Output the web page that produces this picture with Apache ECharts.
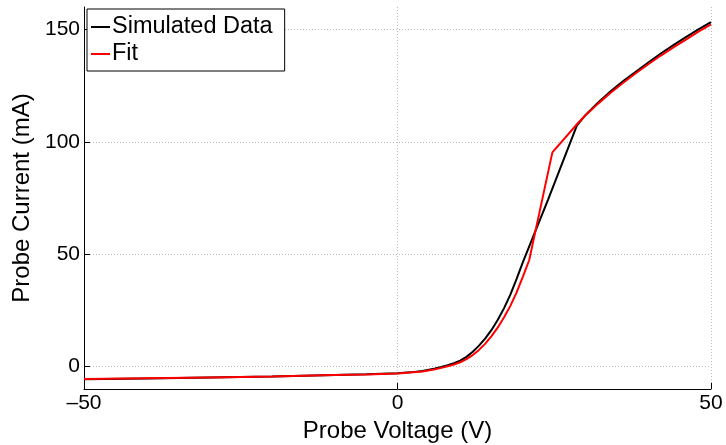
<!DOCTYPE html>
<html>
<head>
<meta charset="utf-8">
<script src="https://cdn.jsdelivr.net/npm/echarts@6/dist/echarts.min.js"></script>
<style>
html,body{margin:0;padding:0;background:#fff;}
#c{width:726px;height:445px;}
</style>
</head>
<body>
<div id="c"></div>
<script>
// Simulated data (black)
var simV = [-50,-40,-30,-20,-10,-5,0,2,4,6,7,8,9,10,11,12,13,14,15,16,17,18,19,20,24,28.6,30,32,34,36,38,40,42,44,46,48,50];
var simI = [-5.7,-5.3,-4.85,-4.4,-3.8,-3.45,-3.0,-2.6,-2.0,-0.9,-0.2,0.6,1.5,2.6,4.3,6.6,9.3,12.5,16.3,20.8,26.0,32.0,39.0,46.5,74.2,107.2,112.0,117.5,122.5,127.0,131.2,135.3,139.3,143.0,146.6,150.0,153.3];
// Fit (red)
var fitV = [-50,-40,-30,-20,-10,-5,0,2,4,6,7,8,9,10,11,12,13,14,15,16,17,18,19,20,21,24.7,28.9,30,32,34,36,38,40,42,44,46,48,50];
var fitI = [-5.6,-5.25,-4.85,-4.4,-3.8,-3.5,-3.1,-2.7,-2.2,-1.2,-0.6,0.1,0.9,1.9,3.3,5.1,7.4,10.2,13.5,17.4,21.9,27.0,33.0,40.0,47.3,95.3,108.7,111.8,117.0,121.8,126.3,130.5,134.5,138.4,142.0,145.5,149.0,152.3];
// Ticks
var xTicks = [-50, 0, 50];
var yTicks = [0, 50, 100, 150];
var seriesNames = ['Simulated Data', 'Fit'];

function pairs(xs, ys){ return xs.map(function(x,i){ return [x, ys[i]]; }); }

var font = 'Liberation Sans, Arial, Helvetica, sans-serif';
var gridLine = {show:true, lineStyle:{color:'#bdbdbd', width:1, type:[1,2]}};

var chart = echarts.init(document.getElementById('c'), null, {renderer:'canvas'});
chart.setOption({
  animation:false,
  backgroundColor:'#fff',
  grid:{left:84, right:15, top:7, bottom:56, containLabel:false, outerBoundsMode:'none'},
  legend:{
    left:87, top:9, orient:'vertical',
    data:seriesNames,
    icon:'rect', itemWidth:19, itemHeight:2, itemGap:3,
    padding:[6,12,5,4],
    borderColor:'#000', borderWidth:1, backgroundColor:'#fff',
    textStyle:{fontFamily:font, fontSize:23.5, color:'#000', padding:[0,0,0,-3]}
  },
  xAxis:{
    type:'value', min:-50, max:50, interval:50,
    name:'Probe Voltage (V)', nameLocation:'middle', nameGap:25,
    nameTextStyle:{fontFamily:font, fontSize:24, color:'#000'},
    axisLine:{show:true, onZero:false, lineStyle:{color:'#000', width:1}},
    axisTick:{show:true, inside:true, length:6, lineStyle:{color:'#000'}, customValues:xTicks},
    axisLabel:{fontFamily:font, fontSize:21, color:'#000', margin:4, customValues:xTicks,
      formatter:function(v){ return String(v).replace('-', '\u2013'); }},
    splitLine:gridLine
  },
  yAxis:{
    type:'value', min:-10, max:160, interval:10,
    name:'Probe Current (mA)', nameLocation:'middle', nameGap:46,
    nameTextStyle:{fontFamily:font, fontSize:24, color:'#000'},
    axisLine:{show:true, onZero:false, lineStyle:{color:'#000', width:1}},
    axisTick:{show:true, inside:true, length:6, lineStyle:{color:'#000'}, customValues:yTicks},
    axisLabel:{fontFamily:font, fontSize:21, color:'#000', margin:4, customValues:yTicks},
    splitLine:Object.assign({customValues:yTicks}, gridLine)
  },
  series:[
    {name:seriesNames[0], type:'line', data:pairs(simV, simI), showSymbol:false, symbol:'none', smooth:false,
     lineStyle:{color:'#000', width:2}, itemStyle:{color:'#000'}, z:2},
    {name:seriesNames[1], type:'line', data:pairs(fitV, fitI), showSymbol:false, symbol:'none', smooth:false,
     lineStyle:{color:'#ff0000', width:2}, itemStyle:{color:'#ff0000'}, z:3}
  ]
});
</script>
</body>
</html>
